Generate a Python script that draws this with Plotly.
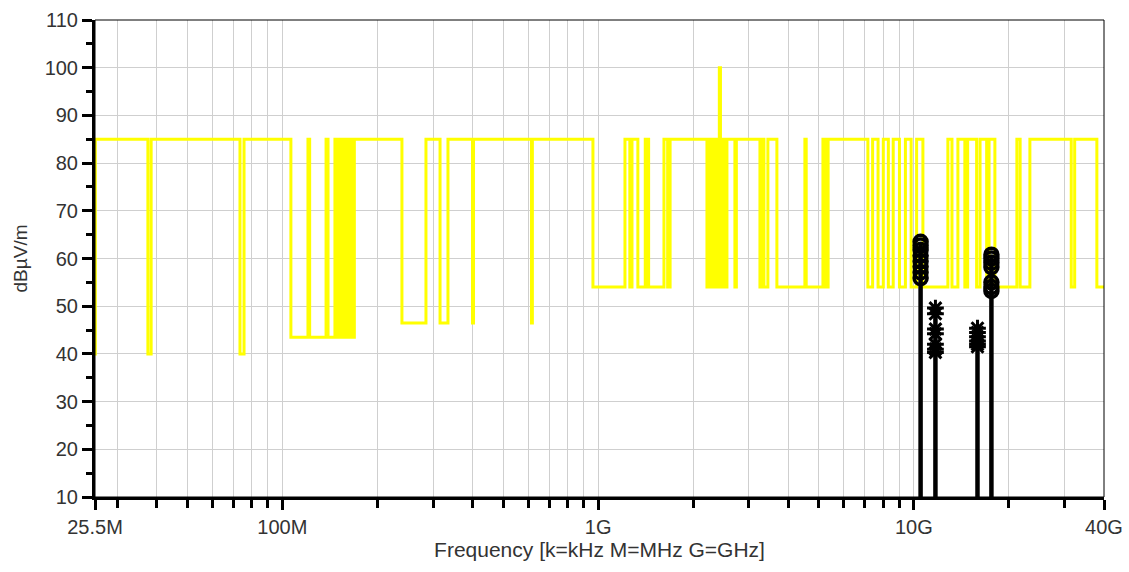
import math
import plotly.graph_objects as go

# ---------------- data (frequencies in MHz, levels in dBµV/m) ----------------
limit_freq_mhz = [25.5, 25.56, 37.5, 38.4, 73.4, 75.6, 106.4, 120.5, 122.0, 137.5,
                  139.5, 146.7, 148.5, 150.5, 152.5, 154.5, 157.0, 159.0, 161.5, 164.0,
                  166.5, 169.0, 239.1, 284.9, 315.7, 334.5, 400.0, 403.0, 615.0, 619.0,
                  962.8, 1216, 1260, 1280, 1336, 1410, 1420, 1430, 1445, 1616,
                  1660, 1690, 2211, 2250, 2290, 2330, 2380, 2420, 2440, 2480,
                  2520, 2558, 2711, 2740, 3254, 3300, 3350, 3448, 3682, 4516,
                  4560, 5151, 5250, 5350, 7150, 7400, 7700, 8000, 8300, 8600,
                  9000, 9400, 9800, 10200, 10679, 12811, 13200, 13783, 14500, 14800,
                  15800, 16200, 17000, 17300, 18051, 21190, 21700, 23300, 31500, 32300,
                  37970, 40000]
limit_level = [40, 85, 40, 85, 40, 85, 43.5, 85, 43.5, 85,
               43.5, 85, 43.5, 85, 43.5, 85, 43.5, 85, 43.5, 85,
               43.5, 85, 46.5, 85, 46.5, 85, 46.5, 85, 46.5, 85,
               54, 85, 54, 85, 54, 85, 54, 85, 54, 85,
               54, 85, 54, 85, 54, 85, 54, 100, 54, 85,
               54, 85, 54, 85, 54, 85, 54, 85, 54, 85,
               54, 85, 54, 85, 54, 85, 54, 85, 54, 85,
               54, 85, 54, 85, 54, 85, 54, 85, 54, 85,
               54, 85, 54, 85, 54, 85, 54, 85, 54, 85,
               54, 54]

# measured peaks
peak_freqs_mhz = [10500, 11700, 15900, 17600]
peak1_vals = [63.5, 62.7, 61.8, 60.6, 59.4, 58.3, 57.1, 55.9]   # circles
peak2_vals = [49.6, 48.4, 45.2, 44.2, 42.0, 41.0, 40.3]         # asterisks
peak3_vals = [45.4, 44.5, 43.6, 42.7, 42.0, 41.5]               # asterisks
peak4_vals = [60.8, 60.0, 59.1, 58.2, 55.0, 54.0, 53.2]         # circles

x_tick_vals = [25.5, 100, 1000, 10000, 40000]
x_tick_text = ["25.5M", "100M", "1G", "10G", "40G"]
x_minor_vals = [30, 40, 50, 60, 70, 80, 90,
                200, 300, 400, 500, 600, 700, 800, 900,
                2000, 3000, 4000, 5000, 6000, 7000, 8000, 9000,
                20000, 30000]
y_tick_vals = [10, 20, 30, 40, 50, 60, 70, 80, 90, 100, 110]

FONT = "Liberation Sans, Arial, sans-serif"
GRID = "#cfcfcf"

fig = go.Figure()

fig.add_trace(go.Scatter(
    x=limit_freq_mhz, y=limit_level, mode="lines",
    line=dict(color="#ffff00", width=3, shape="hv"),
    showlegend=False, hoverinfo="skip"))

# stems
peak_groups = [peak1_vals, peak2_vals, peak3_vals, peak4_vals]
stem_x, stem_y = [], []
for f, vals in zip(peak_freqs_mhz, peak_groups):
    stem_x += [f, f, None]
    stem_y += [10, max(vals), None]
fig.add_trace(go.Scatter(x=stem_x, y=stem_y, mode="lines",
                         line=dict(color="black", width=4.5),
                         showlegend=False, hoverinfo="skip"))

circle_groups = [(peak_freqs_mhz[0], peak1_vals), (peak_freqs_mhz[3], peak4_vals)]
star_groups = [(peak_freqs_mhz[1], peak2_vals), (peak_freqs_mhz[2], peak3_vals)]
for f, vals in circle_groups:
    fig.add_trace(go.Scatter(x=[f] * len(vals), y=vals, mode="markers",
                             marker=dict(symbol="circle-open", size=13, color="black",
                                         line=dict(width=3.5, color="black")),
                             showlegend=False))
for f, vals in star_groups:
    fig.add_trace(go.Scatter(x=[f] * len(vals), y=vals, mode="markers",
                             marker=dict(symbol="asterisk-open", size=14, color="black",
                                         line=dict(width=3, color="black")),
                             showlegend=False))

fig.update_layout(
    width=1129, height=572,
    margin=dict(l=95, r=25, t=20, b=75),
    plot_bgcolor="white", paper_bgcolor="white",
    font=dict(family=FONT, color="#333333"),
    xaxis=dict(
        type="log", range=[math.log10(25.5), math.log10(40000)],
        automargin=False,
        tickmode="array", tickvals=x_tick_vals, ticktext=x_tick_text,
        ticks="outside", ticklen=10, tickwidth=3, tickcolor="black",
        showline=True, linewidth=3, linecolor="black",
        showgrid=True, gridcolor=GRID, gridwidth=1, zeroline=False,
        minor=dict(tickmode="array", tickvals=x_minor_vals, ticks="outside",
                   ticklen=8, tickwidth=3, tickcolor="black",
                   showgrid=True, gridcolor=GRID, gridwidth=1),
        tickfont=dict(family=FONT, size=20, color="#333333"),
        title=dict(text="Frequency [k=kHz M=MHz G=GHz]",
                   font=dict(family=FONT, size=21, color="#333333"), standoff=2),
    ),
    yaxis=dict(
        range=[10, 110], tickmode="array", tickvals=y_tick_vals,
        automargin=False,
        ticks="outside", ticklen=10, tickwidth=3, tickcolor="black",
        showline=True, linewidth=3, linecolor="black",
        showgrid=True, gridcolor=GRID, gridwidth=1, zeroline=False,
        minor=dict(dtick=5, ticks="outside", ticklen=6, tickwidth=3,
                   tickcolor="black", showgrid=False),
        tickfont=dict(family=FONT, size=20, color="#333333"),
        title=dict(text="dBµV/m", font=dict(family=FONT, size=19, color="#333333"),
                   standoff=12),
    ),
    shapes=[dict(type="rect", xref="paper", yref="paper", x0=0, x1=1, y0=0, y1=1,
                 line=dict(color="black", width=1), layer="above")],
)

fig.write_html("out.html")
